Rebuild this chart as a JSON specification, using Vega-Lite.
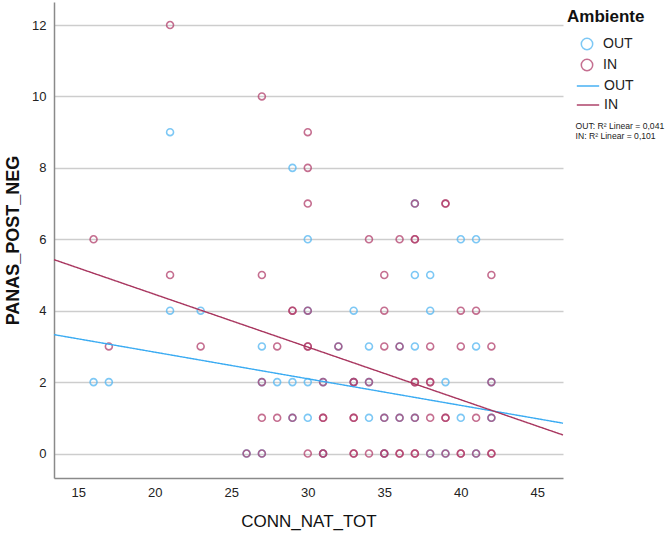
{
  "$schema": "https://vega.github.io/schema/vega-lite/v6.json",
  "width": 509,
  "height": 476,
  "autosize": "none",
  "padding": {"left": 54, "top": 2, "right": 103, "bottom": 61},
  "background": "white",
  "config": {
    "view": {"stroke": null},
    "font": "Liberation Sans",
    "axis": {"labelFont": "Liberation Sans", "titleFont": "Liberation Sans", "labelColor": "#222222", "titleColor": "#111111", "domainColor": "#8a8a8a", "domainWidth": 1.5, "ticks": false, "labelFontSize": 13},
    "legend": {"labelFont": "Liberation Sans", "titleFont": "Liberation Sans", "labelColor": "#222222", "titleColor": "#111111", "orient": "right", "offset": 1, "padding": 0, "layout": {"right": {"anchor": "start", "direction": "vertical", "margin": 0, "offset": 1}}}
  },
  "datasets": {
    "pts": [
      {"x": 16, "y": 2, "g": "OUT"}, {"x": 17, "y": 2, "g": "OUT"}, {"x": 21, "y": 9, "g": "OUT"}, {"x": 21, "y": 4, "g": "OUT"},
      {"x": 23, "y": 4, "g": "OUT"}, {"x": 29, "y": 8, "g": "OUT"}, {"x": 30, "y": 6, "g": "OUT"}, {"x": 40, "y": 6, "g": "OUT"},
      {"x": 41, "y": 6, "g": "OUT"}, {"x": 37, "y": 5, "g": "OUT"}, {"x": 38, "y": 5, "g": "OUT"}, {"x": 33, "y": 4, "g": "OUT"},
      {"x": 38, "y": 4, "g": "OUT"}, {"x": 30, "y": 4, "g": "OUT"}, {"x": 37, "y": 7, "g": "OUT"},
      {"x": 27, "y": 3, "g": "OUT"}, {"x": 34, "y": 3, "g": "OUT"}, {"x": 37, "y": 3, "g": "OUT"}, {"x": 41, "y": 3, "g": "OUT"},
      {"x": 36, "y": 3, "g": "OUT"}, {"x": 32, "y": 3, "g": "OUT"},
      {"x": 27, "y": 2, "g": "OUT"}, {"x": 28, "y": 2, "g": "OUT"}, {"x": 29, "y": 2, "g": "OUT"}, {"x": 30, "y": 2, "g": "OUT"},
      {"x": 31, "y": 2, "g": "OUT"}, {"x": 33, "y": 2, "g": "OUT"}, {"x": 34, "y": 2, "g": "OUT"}, {"x": 39, "y": 2, "g": "OUT"},
      {"x": 42, "y": 2, "g": "OUT"},
      {"x": 29, "y": 1, "g": "OUT"}, {"x": 30, "y": 1, "g": "OUT"}, {"x": 34, "y": 1, "g": "OUT"}, {"x": 35, "y": 1, "g": "OUT"},
      {"x": 36, "y": 1, "g": "OUT"}, {"x": 37, "y": 1, "g": "OUT"}, {"x": 40, "y": 1, "g": "OUT"}, {"x": 42, "y": 1, "g": "OUT"},
      {"x": 26, "y": 0, "g": "OUT"}, {"x": 27, "y": 0, "g": "OUT"}, {"x": 31, "y": 0, "g": "OUT"}, {"x": 35, "y": 0, "g": "OUT"},
      {"x": 38, "y": 0, "g": "OUT"}, {"x": 39, "y": 0, "g": "OUT"}, {"x": 41, "y": 0, "g": "OUT"},
      {"x": 21, "y": 12, "g": "IN"}, {"x": 27, "y": 10, "g": "IN"}, {"x": 30, "y": 9, "g": "IN"}, {"x": 30, "y": 8, "g": "IN"},
      {"x": 30, "y": 7, "g": "IN"}, {"x": 37, "y": 7, "g": "IN"}, {"x": 39, "y": 7, "g": "IN"}, {"x": 39, "y": 7, "g": "IN"},
      {"x": 16, "y": 6, "g": "IN"}, {"x": 34, "y": 6, "g": "IN"}, {"x": 36, "y": 6, "g": "IN"}, {"x": 37, "y": 6, "g": "IN"}, {"x": 37, "y": 6, "g": "IN"},
      {"x": 21, "y": 5, "g": "IN"}, {"x": 27, "y": 5, "g": "IN"}, {"x": 35, "y": 5, "g": "IN"}, {"x": 42, "y": 5, "g": "IN"},
      {"x": 29, "y": 4, "g": "IN"}, {"x": 29, "y": 4, "g": "IN"}, {"x": 30, "y": 4, "g": "IN"}, {"x": 35, "y": 4, "g": "IN"},
      {"x": 40, "y": 4, "g": "IN"}, {"x": 41, "y": 4, "g": "IN"},
      {"x": 17, "y": 3, "g": "IN"}, {"x": 23, "y": 3, "g": "IN"}, {"x": 28, "y": 3, "g": "IN"}, {"x": 30, "y": 3, "g": "IN"},
      {"x": 30, "y": 3, "g": "IN"}, {"x": 32, "y": 3, "g": "IN"}, {"x": 35, "y": 3, "g": "IN"}, {"x": 36, "y": 3, "g": "IN"},
      {"x": 38, "y": 3, "g": "IN"}, {"x": 40, "y": 3, "g": "IN"}, {"x": 42, "y": 3, "g": "IN"},
      {"x": 27, "y": 2, "g": "IN"}, {"x": 31, "y": 2, "g": "IN"}, {"x": 33, "y": 2, "g": "IN"}, {"x": 33, "y": 2, "g": "IN"},
      {"x": 34, "y": 2, "g": "IN"}, {"x": 37, "y": 2, "g": "IN"}, {"x": 37, "y": 2, "g": "IN"}, {"x": 38, "y": 2, "g": "IN"},
      {"x": 38, "y": 2, "g": "IN"}, {"x": 42, "y": 2, "g": "IN"},
      {"x": 27, "y": 1, "g": "IN"}, {"x": 28, "y": 1, "g": "IN"}, {"x": 29, "y": 1, "g": "IN"}, {"x": 31, "y": 1, "g": "IN"},
      {"x": 31, "y": 1, "g": "IN"}, {"x": 33, "y": 1, "g": "IN"}, {"x": 33, "y": 1, "g": "IN"}, {"x": 35, "y": 1, "g": "IN"},
      {"x": 36, "y": 1, "g": "IN"}, {"x": 37, "y": 1, "g": "IN"}, {"x": 38, "y": 1, "g": "IN"}, {"x": 39, "y": 1, "g": "IN"},
      {"x": 39, "y": 1, "g": "IN"}, {"x": 41, "y": 1, "g": "IN"}, {"x": 42, "y": 1, "g": "IN"},
      {"x": 26, "y": 0, "g": "IN"}, {"x": 27, "y": 0, "g": "IN"}, {"x": 30, "y": 0, "g": "IN"}, {"x": 31, "y": 0, "g": "IN"},
      {"x": 31, "y": 0, "g": "IN"}, {"x": 33, "y": 0, "g": "IN"}, {"x": 33, "y": 0, "g": "IN"}, {"x": 34, "y": 0, "g": "IN"},
      {"x": 35, "y": 0, "g": "IN"}, {"x": 35, "y": 0, "g": "IN"}, {"x": 36, "y": 0, "g": "IN"}, {"x": 36, "y": 0, "g": "IN"},
      {"x": 37, "y": 0, "g": "IN"}, {"x": 37, "y": 0, "g": "IN"}, {"x": 38, "y": 0, "g": "IN"}, {"x": 39, "y": 0, "g": "IN"},
      {"x": 40, "y": 0, "g": "IN"}, {"x": 40, "y": 0, "g": "IN"}, {"x": 41, "y": 0, "g": "IN"}, {"x": 42, "y": 0, "g": "IN"},
      {"x": 42, "y": 0, "g": "IN"}
    ],
    "fit": [
      {"x": 13.415, "y": 3.33, "linea": "OUT", "r2": "OUT: R² Linear = 0,041"},
      {"x": 46.68, "y": 0.85, "linea": "OUT", "r2": "OUT: R² Linear = 0,041"},
      {"x": 13.415, "y": 5.43, "linea": "IN", "r2": "IN: R² Linear = 0,101"},
      {"x": 46.68, "y": 0.52, "linea": "IN", "r2": "IN: R² Linear = 0,101"}
    ]
  },
  "layer": [
    {
      "data": {"name": "pts"},
      "mark": {"type": "point", "shape": "circle", "filled": false, "size": 48, "strokeWidth": 1.6, "opacity": 0.75},
      "encoding": {
        "x": {"field": "x", "type": "quantitative", "scale": {"domain": [13.415, 46.68], "nice": false, "zero": false},
              "axis": {"values": [15, 20, 25, 30, 35, 40, 45], "grid": false, "title": "CONN_NAT_TOT", "titleFontSize": 17, "titleFontWeight": "normal", "labelPadding": 8, "titlePadding": 14}},
        "y": {"field": "y", "type": "quantitative", "scale": {"domain": [-0.685, 12.645], "nice": false, "zero": false},
              "axis": {"values": [0, 2, 4, 6, 8, 10, 12], "grid": true, "gridColor": "#cdcdcd", "gridWidth": 1.6, "title": "PANAS_POST_NEG", "titleFontSize": 18, "titleFontWeight": "bold", "labelPadding": 8, "titlePadding": 9}},
        "color": {"field": "g", "type": "nominal", "scale": {"domain": ["OUT", "IN"], "range": ["#52b6f2", "#b23f6c"]},
                  "legend": {"title": "Ambiente", "titleFontSize": 17, "titleFontWeight": "bold", "titleBaseline": "line-top", "titleLineHeight": 31, "titlePadding": 18, "labelFontSize": 14, "symbolSize": 130, "symbolStrokeWidth": 1.5, "rowPadding": 3, "symbolOffset": 13, "labelOffset": 9}}
      }
    },
    {
      "data": {"name": "fit"},
      "mark": {"type": "line", "strokeWidth": 1.4},
      "encoding": {
        "x": {"field": "x", "type": "quantitative"},
        "y": {"field": "y", "type": "quantitative"},
        "color": {"field": "linea", "type": "nominal", "scale": {"domain": ["OUT", "IN"], "range": ["#3aabf2", "#a8365f"]},
                  "legend": {"title": null, "labelFontSize": 14, "symbolSize": 500, "symbolStrokeWidth": 1.4, "rowPadding": 0, "symbolOffset": 9, "labelOffset": 4}},
        "strokeDash": {"field": "r2", "type": "nominal", "scale": {"domain": ["OUT: R² Linear = 0,041", "IN: R² Linear = 0,101"], "range": [[1, 0], [1, 0]]},
                       "legend": {"title": " ", "titleFontSize": 8, "titlePadding": 2, "labelFontSize": 8.6, "symbolOpacity": 0, "symbolSize": 0, "labelOffset": 0, "rowPadding": 1, "symbolOffset": 0}}
      }
    }
  ],
  "resolve": {"scale": {"color": "independent", "strokeDash": "independent"}}
}
